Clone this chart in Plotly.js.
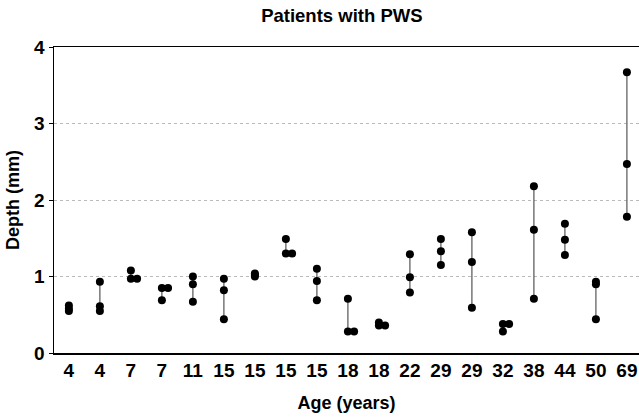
<!DOCTYPE html>
<html>
<head>
<meta charset="utf-8">
<script src="https://cdn.plot.ly/plotly-3.0.1.min.js"></script>
<style>html,body{margin:0;padding:0;background:#fff;}#chart{width:639px;height:417px;}</style>
</head>
<body>
<div id="chart"></div>
<script>
// Patient ages (x categories)
const ages = [4, 4, 7, 7, 11, 15, 15, 15, 15, 18, 18, 22, 29, 29, 32, 38, 44, 50, 69];
// Depth measurements (mm) per patient: highest, middle, lowest
const depthHigh = [0.62, 0.93, 1.08, 0.85, 1.00, 0.97, 1.04, 1.49, 1.10, 0.71, 0.40, 1.29, 1.49, 1.58, 0.38, 2.18, 1.69, 0.93, 3.67];
const depthMid  = [0.58, 0.61, 0.97, 0.85, 0.90, 0.82, 1.02, 1.30, 0.94, 0.28, 0.36, 0.99, 1.33, 1.19, 0.38, 1.61, 1.48, 0.90, 2.47];
const depthLow  = [0.55, 0.55, 0.97, 0.69, 0.67, 0.44, 1.00, 1.30, 0.69, 0.28, 0.36, 0.79, 1.15, 0.59, 0.28, 0.71, 1.28, 0.44, 1.78];
const yTicks = [0, 1, 2, 3, 4];

const FONT = 'Liberation Sans, Arial, Helvetica, sans-serif';
const idx = ages.map((_, i) => i);

// range lines
const lx = [], ly = [];
idx.forEach(i => {
  const vals = [depthHigh[i], depthMid[i], depthLow[i]];
  lx.push(i, i, null);
  ly.push(Math.min(...vals), Math.max(...vals), null);
});

// markers; identical values within a patient are drawn side by side
const mx = [], my = [];
idx.forEach(i => {
  const vals = [depthHigh[i], depthMid[i], depthLow[i]];
  vals.forEach((v, k) => {
    const dup = vals.slice(0, k).some(u => u === v);
    mx.push(dup ? i + 0.2 : i);
    my.push(v);
  });
});

const data = [
  {type: 'scatter', mode: 'lines', x: lx, y: ly, connectgaps: false,
   line: {color: '#555', width: 1.2}, hoverinfo: 'skip', showlegend: false},
  {type: 'scatter', mode: 'markers', x: mx, y: my,
   marker: {color: '#000', size: 8}, showlegend: false}
];

const layout = {
  width: 639, height: 417,
  margin: {l: 54, r: 0, t: 47, b: 64},
  paper_bgcolor: '#fff', plot_bgcolor: '#fff',
  font: {family: FONT, color: '#000'},
  title: {text: 'Patients with PWS', x: 0.535, xanchor: 'center', y: 0.962, yanchor: 'middle', yref: 'container',
          font: {family: FONT, size: 18.5, weight: 'bold', color: '#000'}},
  xaxis: {
    range: [-0.48, 18.39], tickmode: 'array', tickvals: idx, ticktext: ages.map(String),
    showgrid: false, zeroline: false, showline: true, linecolor: '#000', linewidth: 1.5, mirror: true,
    ticks: '', tickfont: {family: FONT, size: 19, weight: 'bold', color: '#000'},
    title: {text: 'Age (years)', standoff: 16, font: {family: FONT, size: 18, weight: 'bold', color: '#000'}},
    fixedrange: true
  },
  yaxis: {
    range: [0, 4], tickmode: 'array', tickvals: yTicks, ticktext: yTicks.map(String),
    showgrid: true, gridcolor: '#bbb', griddash: 'dot', gridwidth: 1,
    zeroline: false, showline: true, linecolor: '#000', linewidth: 1.5,
    ticks: 'outside', ticklen: 4, tickcolor: '#000',
    tickfont: {family: FONT, size: 19, weight: 'bold', color: '#000'},
    title: {text: 'Depth (mm)', standoff: 10, font: {family: FONT, size: 18, weight: 'bold', color: '#000'}},
    fixedrange: true
  }
};

Plotly.newPlot('chart', data, layout, {displayModeBar: false, staticPlot: true});
</script>
</body>
</html>
